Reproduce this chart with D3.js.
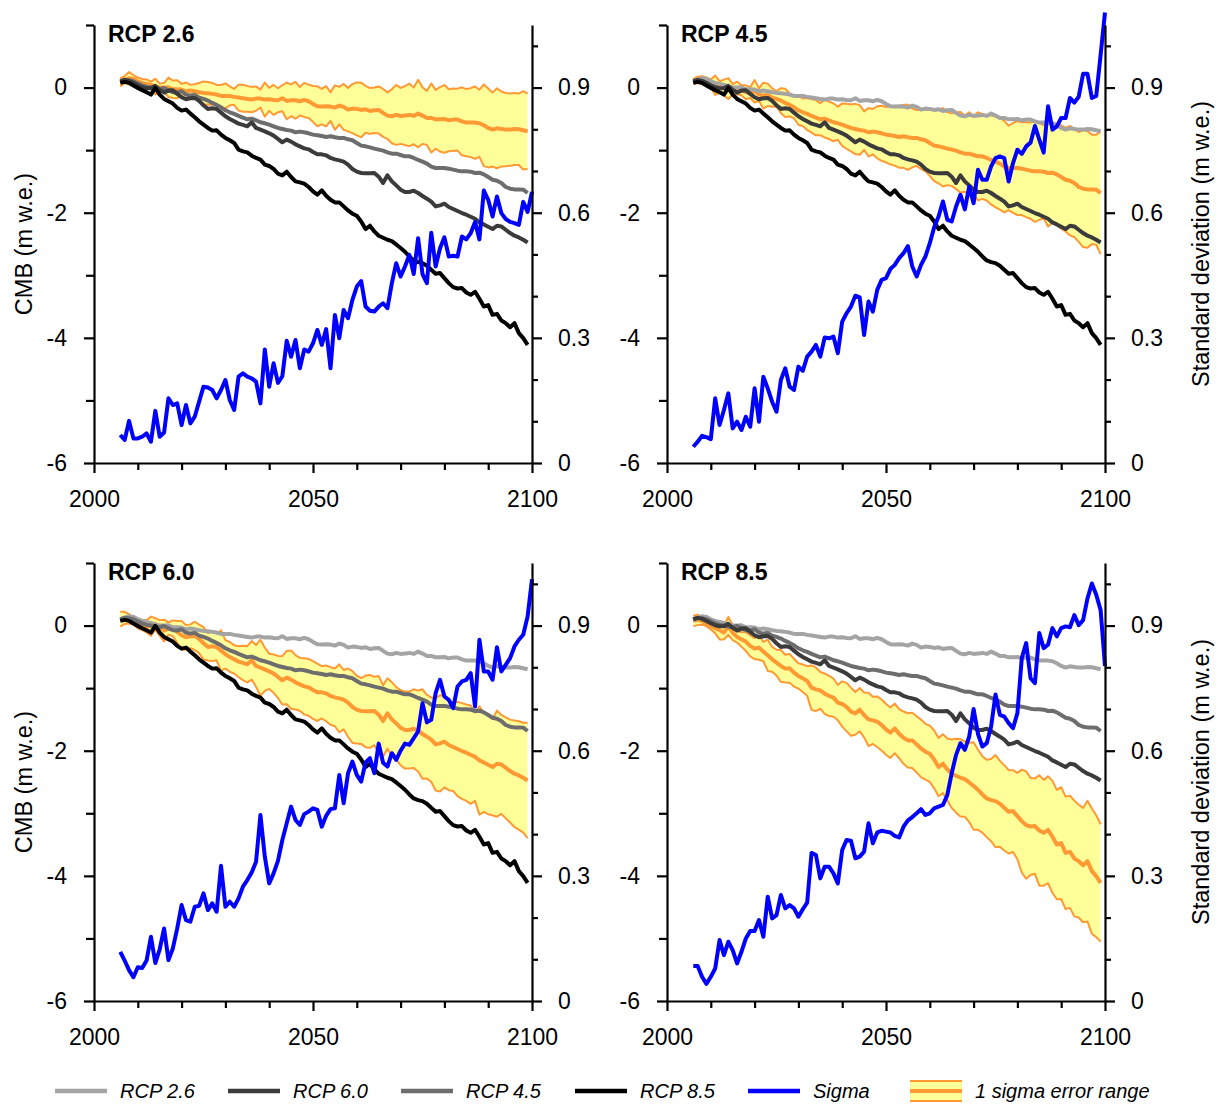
<!DOCTYPE html>
<html>
<head>
<meta charset="utf-8">
<script src="https://cdn.jsdelivr.net/npm/d3@7"></script>
<style>
  body { margin: 0; background: #fff; }
  svg { display: block; font-family: "Liberation Sans", Arial, sans-serif; }
</style>
</head>
<body>
<div id="chart"></div>
<script>
// cumulative mass balance (m w.e.), one value per year from 2006
const startYear = 2006;

const cmb26 = [0.085, 0.128, 0.149, 0.139, 0.101, 0.075, 0.059, 0.043, 0.016, 0.000,
  0.000, 0.005, -0.027, -0.027, -0.032, -0.059, -0.048, -0.059, -0.075, -0.085,
  -0.091, -0.101, -0.112, -0.133, -0.133, -0.133, -0.149, -0.160, -0.171, -0.181,
  -0.192, -0.176, -0.176, -0.192, -0.187, -0.197, -0.203, -0.171, -0.213, -0.203,
  -0.203, -0.219, -0.197, -0.219, -0.261, -0.299, -0.304, -0.299, -0.304, -0.320,
  -0.288, -0.309, -0.352, -0.336, -0.341, -0.357, -0.347, -0.373, -0.363, -0.357,
  -0.405, -0.448, -0.459, -0.437, -0.453, -0.448, -0.437, -0.453, -0.416, -0.448,
  -0.485, -0.485, -0.507, -0.507, -0.501, -0.523, -0.512, -0.512, -0.539, -0.560,
  -0.560, -0.560, -0.571, -0.603, -0.645, -0.672, -0.651, -0.661, -0.672, -0.672,
  -0.661, -0.667, -0.683, -0.699];

const cmb45 = [0.101, 0.123, 0.117, 0.101, 0.069, 0.037, 0.011, 0.000, -0.016, -0.027,
  -0.005, -0.043, -0.075, -0.080, -0.059, -0.112, -0.128, -0.117, -0.160, -0.181,
  -0.208, -0.245, -0.277, -0.315, -0.363, -0.395, -0.421, -0.453, -0.480, -0.507,
  -0.496, -0.523, -0.555, -0.571, -0.592, -0.619, -0.645, -0.661, -0.677, -0.688,
  -0.715, -0.704, -0.715, -0.731, -0.752, -0.763, -0.773, -0.789, -0.779, -0.795,
  -0.805, -0.805, -0.827, -0.843, -0.885, -0.928, -0.939, -0.955, -0.976, -0.992,
  -1.008, -1.035, -1.056, -1.056, -1.077, -1.099, -1.099, -1.125, -1.157, -1.184,
  -1.216, -1.264, -1.285, -1.285, -1.285, -1.296, -1.312, -1.328, -1.339, -1.339,
  -1.344, -1.365, -1.360, -1.387, -1.429, -1.472, -1.488, -1.525, -1.589, -1.616,
  -1.627, -1.627, -1.632, -1.685];

const cmb60 = [0.101, 0.123, 0.107, 0.075, 0.037, 0.005, -0.011, -0.011, 0.027, -0.037,
  -0.080, -0.048, -0.043, -0.101, -0.155, -0.187, -0.171, -0.165, -0.213, -0.283,
  -0.341, -0.331, -0.341, -0.400, -0.459, -0.501, -0.539, -0.576, -0.597, -0.619,
  -0.555, -0.645, -0.672, -0.699, -0.731, -0.768, -0.821, -0.875, -0.832, -0.864,
  -0.907, -0.939, -0.971, -0.987, -1.029, -1.067, -1.067, -1.083, -1.125, -1.147,
  -1.163, -1.184, -1.232, -1.301, -1.344, -1.365, -1.371, -1.371, -1.365, -1.424,
  -1.525, -1.403, -1.499, -1.563, -1.632, -1.669, -1.669, -1.648, -1.685, -1.733,
  -1.776, -1.824, -1.899, -1.883, -1.856, -1.909, -1.941, -1.973, -2.005, -2.032,
  -2.064, -2.096, -2.155, -2.187, -2.224, -2.261, -2.208, -2.219, -2.272, -2.325,
  -2.368, -2.395, -2.432, -2.475];

const cmb85 = [0.075, 0.091, 0.075, 0.032, -0.005, -0.043, -0.075, -0.112, -0.005, -0.112,
  -0.181, -0.219, -0.256, -0.325, -0.368, -0.352, -0.416, -0.475, -0.539, -0.592,
  -0.645, -0.688, -0.683, -0.752, -0.805, -0.843, -0.885, -0.992, -1.019, -1.035,
  -1.088, -1.125, -1.152, -1.232, -1.253, -1.301, -1.376, -1.403, -1.344, -1.429,
  -1.499, -1.515, -1.536, -1.589, -1.659, -1.712, -1.643, -1.728, -1.792, -1.835,
  -1.835, -1.899, -1.963, -2.016, -2.048, -2.139, -2.261, -2.208, -2.299, -2.368,
  -2.400, -2.432, -2.453, -2.507, -2.565, -2.624, -2.699, -2.763, -2.789, -2.805,
  -2.848, -2.912, -2.976, -2.965, -3.045, -3.125, -3.189, -3.211, -3.205, -3.275,
  -3.312, -3.264, -3.376, -3.499, -3.477, -3.632, -3.616, -3.723, -3.765, -3.829,
  -3.765, -3.925, -4.005, -4.112];

// standard deviation (m w.e.), one value per year from 2006 to 2100
const sigma26 = [0.067, 0.055, 0.101, 0.059, 0.059, 0.063, 0.071, 0.051, 0.125, 0.063,
  0.073, 0.155, 0.139, 0.143, 0.091, 0.139, 0.095, 0.111, 0.147, 0.183,
  0.181, 0.175, 0.155, 0.175, 0.199, 0.151, 0.127, 0.207, 0.215, 0.207,
  0.203, 0.195, 0.143, 0.272, 0.183, 0.239, 0.192, 0.208, 0.293, 0.255,
  0.295, 0.227, 0.272, 0.267, 0.287, 0.319, 0.283, 0.321, 0.227, 0.355,
  0.299, 0.367, 0.347, 0.391, 0.423, 0.436, 0.375, 0.365, 0.363, 0.375,
  0.383, 0.371, 0.431, 0.479, 0.447, 0.471, 0.499, 0.453, 0.539, 0.453,
  0.431, 0.552, 0.471, 0.515, 0.541, 0.495, 0.497, 0.495, 0.543, 0.536,
  0.551, 0.578, 0.536, 0.653, 0.631, 0.591, 0.639, 0.599, 0.585, 0.578,
  0.575, 0.571, 0.626, 0.602, 0.650];

const sigma45 = [0.039, 0.051, 0.065, 0.062, 0.057, 0.155, 0.091, 0.127, 0.167, 0.083,
  0.099, 0.079, 0.111, 0.087, 0.179, 0.099, 0.207, 0.179, 0.147, 0.123,
  0.199, 0.227, 0.183, 0.175, 0.231, 0.221, 0.255, 0.267, 0.283, 0.255,
  0.301, 0.299, 0.303, 0.263, 0.339, 0.359, 0.375, 0.401, 0.397, 0.307,
  0.387, 0.363, 0.415, 0.439, 0.443, 0.465, 0.475, 0.491, 0.503, 0.520,
  0.471, 0.447, 0.475, 0.495, 0.527, 0.565, 0.591, 0.627, 0.583, 0.579,
  0.615, 0.643, 0.608, 0.663, 0.623, 0.703, 0.679, 0.679, 0.711, 0.731,
  0.735, 0.731, 0.675, 0.719, 0.751, 0.741, 0.759, 0.768, 0.808, 0.775,
  0.744, 0.855, 0.799, 0.807, 0.827, 0.827, 0.875, 0.864, 0.878, 0.933,
  0.933, 0.875, 0.880, 0.978, 1.080];

const sigma60 = [0.118, 0.097, 0.074, 0.057, 0.081, 0.079, 0.097, 0.154, 0.091, 0.124,
  0.174, 0.098, 0.126, 0.174, 0.230, 0.194, 0.190, 0.226, 0.228, 0.258,
  0.218, 0.234, 0.214, 0.324, 0.226, 0.238, 0.226, 0.246, 0.274, 0.290,
  0.308, 0.334, 0.446, 0.346, 0.282, 0.306, 0.336, 0.386, 0.426, 0.466,
  0.434, 0.422, 0.448, 0.454, 0.462, 0.458, 0.418, 0.444, 0.460, 0.462,
  0.542, 0.474, 0.546, 0.574, 0.542, 0.526, 0.572, 0.582, 0.546, 0.617,
  0.571, 0.562, 0.594, 0.578, 0.600, 0.617, 0.614, 0.630, 0.646, 0.714,
  0.668, 0.674, 0.738, 0.770, 0.730, 0.722, 0.702, 0.754, 0.766, 0.770,
  0.786, 0.706, 0.866, 0.790, 0.790, 0.770, 0.848, 0.790, 0.806, 0.822,
  0.850, 0.866, 0.878, 0.922, 1.011];

const sigma85 = [0.084, 0.084, 0.058, 0.041, 0.058, 0.078, 0.146, 0.110, 0.142, 0.122,
  0.090, 0.118, 0.150, 0.168, 0.168, 0.194, 0.154, 0.250, 0.198, 0.206,
  0.254, 0.222, 0.230, 0.222, 0.202, 0.220, 0.236, 0.355, 0.350, 0.294,
  0.322, 0.322, 0.306, 0.282, 0.362, 0.386, 0.384, 0.342, 0.346, 0.358,
  0.426, 0.378, 0.404, 0.408, 0.406, 0.404, 0.396, 0.392, 0.418, 0.433,
  0.441, 0.450, 0.460, 0.446, 0.450, 0.462, 0.466, 0.470, 0.494, 0.546,
  0.590, 0.618, 0.602, 0.634, 0.700, 0.640, 0.610, 0.618, 0.658, 0.735,
  0.686, 0.682, 0.666, 0.654, 0.690, 0.822, 0.858, 0.774, 0.762, 0.882,
  0.846, 0.854, 0.894, 0.874, 0.894, 0.898, 0.896, 0.925, 0.901, 0.913,
  0.965, 1.001, 0.974, 0.937, 0.803];

const scenarioNames = ["RCP 2.6", "RCP 4.5", "RCP 6.0", "RCP 8.5"];
const cmbSeries = [cmb26, cmb45, cmb60, cmb85];
const sigmaSeries = [sigma26, sigma45, sigma60, sigma85];
const legendNames = ["RCP 2.6", "RCP 6.0", "RCP 4.5", "RCP 8.5", "Sigma", "1 sigma error range"];

const cmbTicks = d3.range(-6, 2);          // -6 .. 1
const sdTicks = d3.range(11).map(i => i / 10); // 0 .. 1.0
const yearTicks = d3.range(2000, 2101, 10);

// styling
const grayColor = {"RCP 2.6": "#a4a4a4", "RCP 4.5": "#6d6d6d", "RCP 6.0": "#3b3b3b", "RCP 8.5": "#000000"};
const blue = "#0000ff", orange = "#ff9933", yellow = "#ffff99";

const W = 1221, H = 1104;
const colX = [94, 667], rowY = [25, 563];
const plotW = 438, plotH = 438;
const legX = [55, 228, 401, 575, 748, 910], legY = 1091;

const svg = d3.select("#chart").append("svg")
    .attr("width", W)
    .attr("height", H);

scenarioNames.forEach((name, p) => {
    const left = colX[p % 2], top = rowY[Math.floor(p / 2)];
    const x = d3.scaleLinear().domain([2000, 2100]).range([left, left + plotW]);
    const y = d3.scaleLinear().domain([-6, 1]).range([top + plotH, top]);
    const ys = d3.scaleLinear().domain([0, 1.05]).range([top + plotH, top]);

    const g = svg.append("g");
    const mean = cmbSeries[p], sd = sigmaSeries[p];

    // 1 sigma band
    const band = d3.area()
        .x((d, i) => x(startYear + i))
        .y0((d, i) => y(d - sd[i]))
        .y1((d, i) => y(d + sd[i]));
    g.append("path").datum(mean)
        .attr("d", band)
        .attr("fill", yellow);

    const line = d3.line()
        .x((d, i) => x(startYear + i))
        .y(d => y(d));

    [1, -1].forEach(s => {
        g.append("path").datum(mean.map((d, i) => d + s * sd[i]))
            .attr("d", line)
            .attr("fill", "none")
            .attr("stroke", orange)
            .attr("stroke-width", 2)
            .attr("stroke-linejoin", "round");
    });
    g.append("path").datum(mean)
        .attr("d", line)
        .attr("fill", "none")
        .attr("stroke", orange)
        .attr("stroke-width", 4)
        .attr("stroke-linejoin", "round");

    // other scenarios in grey
    scenarioNames.forEach((other, k) => {
        if (k === p) return;
        g.append("path").datum(cmbSeries[k])
            .attr("d", line)
            .attr("fill", "none")
            .attr("stroke", grayColor[other])
            .attr("stroke-width", 4)
            .attr("stroke-linejoin", "round");
    });

    // sigma on right axis
    const sdLine = d3.line()
        .x((d, i) => x(startYear + i))
        .y(d => ys(d));
    g.append("path").datum(sd)
        .attr("d", sdLine)
        .attr("fill", "none")
        .attr("stroke", blue)
        .attr("stroke-width", 4)
        .attr("stroke-linejoin", "round");

    // axes
    const axL = g.append("g")
        .attr("transform", `translate(${left},0)`)
        .call(d3.axisLeft(y).tickValues(cmbTicks).tickSizeOuter(0)
            .tickFormat(d => d % 2 === 0 ? String(d) : ""));
    axL.selectAll(".tick line").attr("x2", d => d % 2 === 0 ? -10 : -8);
    axL.selectAll(".tick text").attr("x", -27);

    const axR = g.append("g")
        .attr("transform", `translate(${left + plotW},0)`)
        .call(d3.axisRight(ys).tickValues(sdTicks).tickSizeOuter(0)
            .tickFormat((d, i) => i % 3 === 0 ? (i === 0 ? "0" : d.toFixed(1)) : ""));
    axR.selectAll(".tick line").attr("x2", (d, i) => i % 3 === 0 ? 10 : 6);
    axR.selectAll(".tick text").attr("x", 26);

    const axB = g.append("g")
        .attr("transform", `translate(0,${top + plotH})`)
        .call(d3.axisBottom(x).tickValues(yearTicks).tickSizeOuter(0)
            .tickFormat(d => d % 50 === 0 ? String(d) : ""));
    axB.selectAll(".tick line").attr("y2", d => d % 50 === 0 ? 10 : 7);
    axB.selectAll(".tick text").attr("y", 28);

    [axL, axR, axB].forEach(a => {
        a.attr("font-size", 23).attr("font-family", null);
        a.selectAll("path, line").attr("stroke", "#000").attr("stroke-width", 2.2);
        a.selectAll("text").attr("fill", "#000");
    });

    g.append("text")
        .attr("x", left + 14)
        .attr("y", top + 17)
        .attr("font-size", 23)
        .attr("font-weight", "bold")
        .text(name);

    if (p % 2 === 0) {
        g.append("text")
            .attr("transform", `translate(24,${top + plotH / 2}) rotate(-90)`)
            .attr("text-anchor", "middle")
            .attr("dy", "0.35em")
            .attr("font-size", 23.5)
            .text("CMB (m w.e.)");
    } else {
        g.append("text")
            .attr("transform", `translate(1201,${top + plotH / 2}) rotate(-90)`)
            .attr("text-anchor", "middle")
            .attr("dy", "0.35em")
            .attr("font-size", 23.5)
            .text("Standard deviation (m w.e.)");
    }
});

// legend
const leg = svg.append("g");
legendNames.forEach((name, i) => {
    const lx = legX[i];
    if (i < 5) {
        leg.append("line")
            .attr("x1", lx).attr("x2", lx + 52)
            .attr("y1", legY).attr("y2", legY)
            .attr("stroke", i === 4 ? blue : grayColor[name])
            .attr("stroke-width", 4.5);
    } else {
        leg.append("rect")
            .attr("x", lx).attr("y", legY - 10)
            .attr("width", 52).attr("height", 20)
            .attr("fill", yellow);
        [-10, 10].forEach(dy => leg.append("line")
            .attr("x1", lx).attr("x2", lx + 52)
            .attr("y1", legY + dy).attr("y2", legY + dy)
            .attr("stroke", orange).attr("stroke-width", 2));
        leg.append("line")
            .attr("x1", lx).attr("x2", lx + 52)
            .attr("y1", legY).attr("y2", legY)
            .attr("stroke", orange).attr("stroke-width", 4);
    }
    leg.append("text")
        .attr("x", lx + 65)
        .attr("y", legY)
        .attr("dy", "0.35em")
        .attr("font-size", 20)
        .attr("font-style", "italic")
        .text(name);
});
</script>
</body>
</html>
